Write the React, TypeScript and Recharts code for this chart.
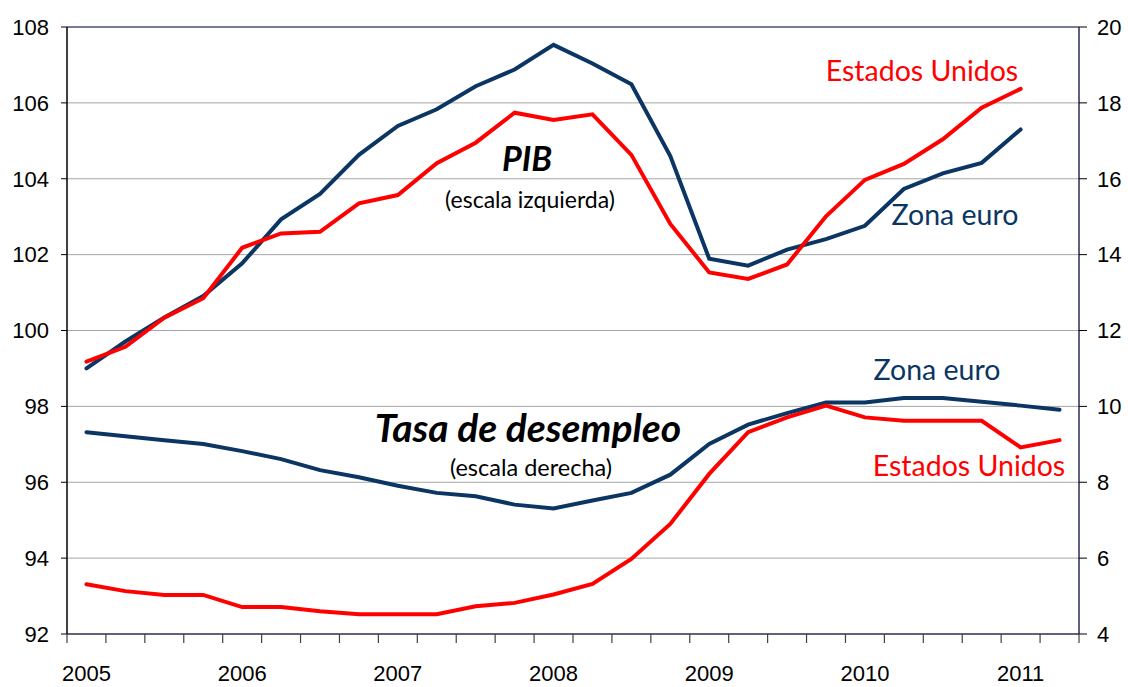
import React from 'react';
import { LineChart, Line, XAxis, YAxis, CartesianGrid, ReferenceLine } from 'recharts';

const categories = [
  '2005 T1', '2005 T2', '2005 T3', '2005 T4',
  '2006 T1', '2006 T2', '2006 T3', '2006 T4',
  '2007 T1', '2007 T2', '2007 T3', '2007 T4',
  '2008 T1', '2008 T2', '2008 T3', '2008 T4',
  '2009 T1', '2009 T2', '2009 T3', '2009 T4',
  '2010 T1', '2010 T2', '2010 T3', '2010 T4',
  '2011 T1', '2011 T2',
];
const yearLabels = ['2005', '2006', '2007', '2008', '2009', '2010', '2011'];
const yearTickIndex = [0, 4, 8, 12, 16, 20, 24];
const leftTicks = [92, 94, 96, 98, 100, 102, 104, 106, 108];
const rightTicks = [4, 6, 8, 10, 12, 14, 16, 18, 20];

// PIB (escala izquierda)
const gdpEuro = [99.0, 99.71, 100.34, 100.91, 101.77, 102.93, 103.6, 104.63, 105.39, 105.83, 106.44, 106.88, 107.53, 107.04, 106.49, 104.6, 101.89, 101.71, 102.13, 102.41, 102.76, 103.73, 104.14, 104.42, 105.3, null];
const gdpUS = [99.18, 99.57, 100.34, 100.85, 102.18, 102.56, 102.6, 103.35, 103.57, 104.41, 104.95, 105.74, 105.55, 105.7, 104.63, 102.81, 101.53, 101.36, 101.74, 103.01, 103.97, 104.39, 105.04, 105.87, 106.37, null];
// Tasa de desempleo (escala derecha)
const unempEuro = [9.32, 9.21, 9.11, 9.01, 8.82, 8.61, 8.32, 8.13, 7.91, 7.72, 7.63, 7.41, 7.31, 7.52, 7.72, 8.2, 9.01, 9.52, 9.82, 10.1, 10.1, 10.22, 10.22, 10.12, 10.02, 9.91];
const unempUS = [5.31, 5.13, 5.03, 5.03, 4.71, 4.71, 4.6, 4.52, 4.52, 4.52, 4.73, 4.82, 5.04, 5.32, 5.98, 6.9, 8.22, 9.32, 9.71, 10.02, 9.71, 9.62, 9.62, 9.62, 8.92, 9.11];

const data = categories.map((c, i) => ({
  i,
  cat: c,
  gdpEuro: gdpEuro[i],
  gdpUS: gdpUS[i],
  unempEuro: unempEuro[i],
  unempUS: unempUS[i],
}));

// tick marks sit on the boundaries between quarters
const boundaryTicks = categories.map((_, i) => i - 0.5).concat([categories.length - 0.5]);
const xDomain = [-0.5, categories.length - 0.5];

const NAVY = '#0b3663';
const RED = '#ff0000';
const AXIS_FAMILY = '"Liberation Sans", Arial, sans-serif';
const AXIS_FONT = { fontSize: 22, fill: '#000', fontFamily: AXIS_FAMILY };
const ANN_FONT = 'Lato, "Open Sans", sans-serif';

const QuarterTick = (props: any) => {
  const { x, y, payload, width } = props;
  const v = payload.value;
  const halfStep = width / categories.length / 2;
  const yearPos = yearTickIndex.indexOf(v + 0.5);
  return (
    <g>
      <line x1={x} x2={x} y1={y} y2={y + 9} stroke="#404040" strokeWidth={1.2} />
      {yearPos >= 0 ? (
        <text x={x + halfStep} y={y + 31} dy="0.71em" textAnchor="middle" fontSize={22} fill="#000" fontFamily={AXIS_FAMILY}>
          {yearLabels[yearPos]}
        </text>
      ) : null}
    </g>
  );
};

export default function App() {
  return (
    <div style={{ position: 'absolute', left: 0, top: 0, width: 1128, height: 687, background: '#fff' }}>
      <LineChart width={1128} height={687} data={data} margin={{ top: 27, right: 0, bottom: 0, left: 7 }}>
        <CartesianGrid yAxisId="left" xAxisId="main" vertical={false} stroke="#a6a6a6" strokeWidth={1} />
        <XAxis
          xAxisId="main"
          dataKey="i"
          type="number"
          domain={xDomain}
          ticks={boundaryTicks}
          interval={0}
          height={53}
          tickSize={0}
          tickMargin={0}
          tickLine={false}
          tick={<QuarterTick />}
          axisLine={{ stroke: '#3b3e5e', strokeWidth: 1.5 }}
        />
        <YAxis
          yAxisId="left"
          orientation="left"
          domain={[92, 108]}
          ticks={leftTicks}
          interval={0}
          width={60}
          tickSize={6}
          tickMargin={12}
          tick={AXIS_FONT}
          axisLine={{ stroke: '#000', strokeWidth: 1.5 }}
          tickLine={{ stroke: '#000' }}
        />
        <YAxis
          yAxisId="right"
          orientation="right"
          domain={[4, 20]}
          ticks={rightTicks}
          interval={0}
          width={49}
          tickSize={8}
          tickMargin={10}
          tick={AXIS_FONT}
          axisLine={{ stroke: '#2a2d5a', strokeWidth: 1.5 }}
          tickLine={{ stroke: '#000' }}
        />
        <ReferenceLine yAxisId="left" xAxisId="main" y={108} stroke="#1f2260" strokeWidth={1.2} />
        <Line xAxisId="main" yAxisId="left" dataKey="gdpEuro" type="linear" stroke={NAVY} strokeWidth={4} dot={false} isAnimationActive={false} strokeLinecap="round" />
        <Line xAxisId="main" yAxisId="left" dataKey="gdpUS" type="linear" stroke={RED} strokeWidth={4} dot={false} isAnimationActive={false} strokeLinecap="round" />
        <Line xAxisId="main" yAxisId="right" dataKey="unempEuro" type="linear" stroke={NAVY} strokeWidth={4} dot={false} isAnimationActive={false} strokeLinecap="round" />
        <Line xAxisId="main" yAxisId="right" dataKey="unempUS" type="linear" stroke={RED} strokeWidth={4} dot={false} isAnimationActive={false} strokeLinecap="round" />
      </LineChart>
      <svg width={1128} height={687} style={{ position: 'absolute', left: 0, top: 0, pointerEvents: 'none' }}>
        <g fontFamily={ANN_FONT}>
          <text x={527} y={171} textAnchor="middle" fontSize={34} fontWeight="bold" fontStyle="italic" fill="#000">PIB</text>
          <text x={530} y={208} textAnchor="middle" fontSize={23} fill="#000">(escala izquierda)</text>
          <text x={528} y={442} textAnchor="middle" fontSize={39} fontWeight="bold" fontStyle="italic" fill="#000">Tasa de desempleo</text>
          <text x={531} y={476} textAnchor="middle" fontSize={23.5} fill="#000">(escala derecha)</text>
          <text x={922} y={81} textAnchor="middle" fontSize={28.5} fill={RED}>Estados Unidos</text>
          <text x={955} y={225} textAnchor="middle" fontSize={28.5} fill={NAVY}>Zona euro</text>
          <text x={937} y={380} textAnchor="middle" fontSize={28.5} fill={NAVY}>Zona euro</text>
          <text x={969} y={476} textAnchor="middle" fontSize={28.5} fill={RED}>Estados Unidos</text>
        </g>
      </svg>
    </div>
  );
}
